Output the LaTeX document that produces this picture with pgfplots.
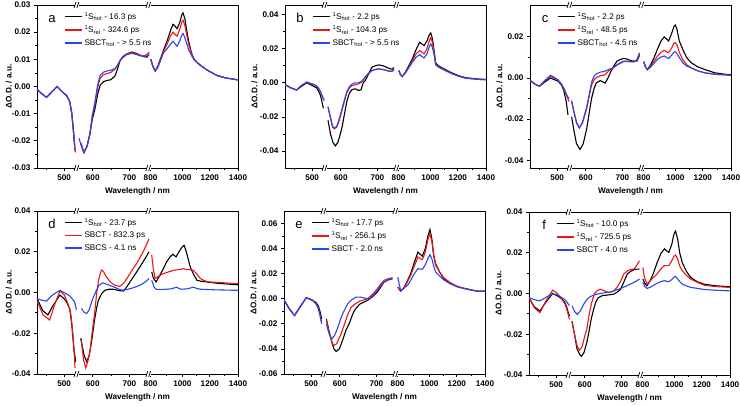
\documentclass[border=0pt]{standalone}
\usepackage{fontspec}
\setmainfont{Liberation Sans}
\usepackage{pgfplots}
\pgfplotsset{compat=1.18}
\definecolor{cblack}{RGB}{0,0,0}
\definecolor{cred}{RGB}{240,20,20}
\definecolor{cblue}{RGB}{40,70,240}

\newcommand{\brkmark}[2]{%
 \fill[white] (rel axis cs:#1,#2) ++(-2.2pt,-1.6pt) rectangle ++(4.4pt,3.2pt);
 \draw[line width=0.7pt] (rel axis cs:#1,#2) ++(-3.2pt,-3pt) -- ++(2pt,6pt);
 \draw[line width=0.7pt] (rel axis cs:#1,#2) ++(-0.4pt,-3pt) -- ++(2pt,6pt);
}
\newcommand{\brks}{\brkmark{0.2}{0}\brkmark{0.2}{1}\brkmark{0.5575}{0}\brkmark{0.5575}{1}}

\pgfplotsset{
 panel/.style={
   width=201pt, height=163pt, scale only axis, anchor=south west,
   xmin=0, xmax=200,
   x filter/.expression={x<548 ? 0.35*x-148.05 : (x<790 ? 0.35*x-156 : 0.145*x-3)},
   unbounded coords=jump,
   scaled y ticks=false, scaled x ticks=false,
   xtick={27,55.5,92,113,144.7,172,200},
   xticklabels={500,600,700,800,1000,1200,1400},
   minor xtick={9.5,73.8,129,158.5,186},
   tick align=outside, xtick pos=bottom, ytick pos=left,
   major tick length=3pt, minor tick length=1.7pt,
   minor y tick num=1,
   axis line style={line width=0.9pt},
   every tick/.style={line width=0.8pt,black},
   tick label style={font=\fontsize{8.2}{9}\selectfont\bfseries},
   label style={font=\fontsize{8.2}{9}\selectfont\bfseries},
   xlabel={Wavelength / nm}, ylabel={ΔO.D. / a.u.},
   xlabel style={at={(axis description cs:0.5,-0.141)}, anchor=center},
   clip mode=individual,
   legend style={draw=none, fill=none, at={(rel axis cs:0.13,0.975)}, anchor=north west,
     font=\fontsize{8.2}{9}\selectfont, legend cell align=left, row sep=1.3pt, inner sep=1pt},
   legend image code/.code={\draw[#1, line width=1.2pt] (0pt,0pt) -- (17pt,0pt);},
 },
}
\newcommand{\plab}[1]{\node[anchor=base, font=\fontsize{13}{13}\selectfont] at (rel axis cs:0.075,0.893) {#1};}

\begin{document}
\begin{tikzpicture}
\useasboundingbox (0,0) rectangle (740pt,405pt);

% ---------------- a ----------------
\begin{axis}[panel, at={(37pt,237pt)}, ymin=-0.03, ymax=0.03,
  ytick={-0.03,-0.02,-0.01,0,0.01,0.02,0.03},
  yticklabels={-0.03,-0.02,-0.01,0.00,0.01,0.02,0.03},
  ylabel style={at={(axis description cs:-0.14,0.5)}, anchor=center}]
\addplot[color=cblack, line width=1.1pt] coordinates {(423,-0.0010) (435,-0.0025) (450,-0.0040) (465,-0.0020) (480,0.0000) (495,-0.0020) (507,-0.0033) (516,-0.0055) (522,-0.010) (527,-0.017) (531,-0.0236)
 (550,nan) (571,-0.021) (579,-0.0243) (588,-0.022) (596,-0.0175) (603,-0.012) (610,-0.0085) (618,-0.003) (625,0.0004) (635,0.0018) (644,0.0022) (656,0.0025) (668,0.0040) (676,0.0070) (682,0.0096) (690,0.011) (701,0.012) (715,0.0127) (728,0.0122) (739,0.0115) (750,0.011) (758,0.0108) (763,0.0115)
 (790,nan) (802,0.0100) (815,0.0075) (832,0.0057) (850,0.0075) (870,0.0105) (890,0.0135) (915,0.0170) (936,0.0205) (954,0.0229) (968,0.0222) (982,0.0213) (1000,0.0235) (1015,0.0265) (1023,0.0271) (1035,0.025) (1050,0.020) (1062,0.0165) (1080,0.0125) (1097,0.0102) (1120,0.0088) (1143,0.0078) (1189,0.0060) (1258,0.0040) (1320,0.0031) (1372,0.0027) (1400,0.0024)};
\addplot[color=cred, line width=1.1pt] coordinates {(423,-0.0010) (435,-0.0025) (450,-0.0040) (465,-0.0020) (480,0.0000) (495,-0.0020) (507,-0.0033) (516,-0.0055) (522,-0.010) (527,-0.017) (531,-0.0236) (533,-0.0243)
 (550,nan) (571,-0.021) (579,-0.0243) (588,-0.022) (596,-0.0175) (603,-0.011) (610,-0.007) (618,-0.0005) (625,0.0030) (635,0.0044) (644,0.0047) (656,0.0052) (668,0.0065) (676,0.0082) (682,0.0096) (690,0.0110) (701,0.0120) (715,0.0125) (728,0.012) (739,0.0115) (750,0.0113) (758,0.0118) (765,0.0127)
 (790,nan) (802,0.0100) (815,0.0075) (832,0.0057) (850,0.0073) (870,0.0102) (890,0.0130) (915,0.0158) (936,0.0185) (954,0.0200) (968,0.0192) (982,0.0185) (1000,0.0210) (1015,0.0238) (1023,0.0244) (1035,0.0225) (1050,0.0185) (1062,0.0155) (1080,0.0122) (1097,0.0102) (1120,0.0088) (1143,0.0078) (1189,0.0060) (1258,0.0040) (1320,0.0031) (1372,0.0027) (1400,0.0024)};
\addplot[color=cblue, line width=1.1pt] coordinates {(423,-0.0010) (435,-0.0025) (450,-0.0040) (465,-0.0020) (480,0.0000) (495,-0.0020) (507,-0.0033) (516,-0.0055) (522,-0.010) (527,-0.017) (531,-0.0230)
 (550,nan) (565,-0.019) (572,-0.022) (579,-0.0243) (588,-0.022) (596,-0.0175) (603,-0.0105) (610,-0.0060) (618,0.0005) (625,0.0040) (635,0.0053) (644,0.0057) (656,0.0060) (668,0.0066) (676,0.0080) (682,0.0094) (690,0.0107) (701,0.0117) (715,0.0122) (728,0.0118) (739,0.0113) (750,0.0110) (758,0.0112) (765,0.0120)
 (790,nan) (802,0.0100) (815,0.0075) (832,0.0057) (850,0.0070) (870,0.0098) (890,0.0125) (915,0.0140) (936,0.0155) (954,0.0167) (968,0.0157) (982,0.0148) (1000,0.0168) (1015,0.0190) (1023,0.0195) (1035,0.0180) (1050,0.0155) (1062,0.0135) (1080,0.0115) (1097,0.0100) (1120,0.0087) (1143,0.0077) (1189,0.0060) (1258,0.0040) (1320,0.0031) (1372,0.0027) (1400,0.0024)};
\legend{\textsuperscript{1}S\textsubscript{hot} - 16.3 ps, \textsuperscript{1}S\textsubscript{rel} - 324.6 ps, SBCT\textsubscript{hot} - > 5.5 ns}
\plab{a}
\brks
\end{axis}

% ---------------- b ----------------
\begin{axis}[panel, at={(285pt,237pt)}, ymin=-0.05, ymax=0.0457,
  ytick={-0.04,-0.02,0,0.02,0.04},
  yticklabels={-0.04,-0.02,0.00,0.02,0.04},
  ylabel style={at={(axis description cs:-0.152,0.5)}, anchor=center}]
\addplot[color=cblack, line width=1.1pt] coordinates {(423,-0.001) (440,-0.003) (456,-0.0042) (470,-0.002) (485,0.0000) (495,-0.0010) (504,-0.0020) (513,-0.0030) (519,-0.005) (524,-0.0075) (528,-0.011) (532,-0.015)
 (550,nan) (568,-0.022) (575,-0.030) (582,-0.035) (589,-0.037) (596,-0.035) (603,-0.030) (608,-0.026) (615,-0.018) (622,-0.0104) (629,-0.006) (636,-0.004) (645,-0.0035) (655,-0.0045) (662,-0.004) (668,0.000) (674,0.0014) (683,0.005) (693,0.0092) (702,0.0100) (712,0.0105) (725,0.0100) (741,0.0085) (750,0.0080) (756,0.0090)
 (790,nan) (802,0.0072) (812,0.0050) (825,0.0037) (845,0.0060) (870,0.0100) (894,0.0140) (920,0.0195) (945,0.0238) (960,0.0228) (975,0.0219) (995,0.0245) (1010,0.0280) (1021,0.0293) (1032,0.0260) (1045,0.0180) (1055,0.0115) (1075,0.0100) (1101,0.0087) (1135,0.0072) (1170,0.0057) (1215,0.0041) (1262,0.0030) (1354,0.0022) (1405,0.0020)};
\addplot[color=cred, line width=1.1pt] coordinates {(423,-0.001) (440,-0.003) (456,-0.0042) (470,-0.0015) (485,0.0003) (495,-0.0005) (504,-0.0010) (513,-0.0020) (519,-0.0035) (524,-0.0055) (530,-0.0085) (534,-0.0105)
 (550,nan) (568,-0.0143) (575,-0.021) (581,-0.026) (586,-0.027) (593,-0.026) (600,-0.022) (608,-0.016) (615,-0.0105) (622,-0.0055) (629,-0.003) (636,-0.0016) (645,-0.0012) (655,-0.0006) (664,0.0005) (674,0.0033) (683,0.0055) (693,0.0072) (702,0.0078) (712,0.0082) (725,0.0078) (741,0.0068) (750,0.0068) (756,0.0078)
 (790,nan) (802,0.0072) (812,0.0050) (825,0.0037) (845,0.0058) (870,0.0093) (894,0.0128) (920,0.0170) (945,0.0190) (960,0.0180) (975,0.0170) (995,0.0200) (1010,0.0245) (1021,0.0264) (1032,0.0240) (1045,0.0170) (1055,0.0110) (1075,0.0095) (1101,0.0082) (1135,0.0068) (1170,0.0053) (1215,0.0038) (1262,0.0027) (1354,0.0020) (1405,0.0018)};
\addplot[color=cblue, line width=1.1pt] coordinates {(423,-0.001) (440,-0.003) (456,-0.0042) (470,-0.0015) (485,0.0005) (495,-0.0003) (504,-0.0008) (513,-0.0018) (519,-0.0033) (524,-0.0052) (530,-0.0082) (534,-0.0100)
 (550,nan) (568,-0.0140) (575,-0.020) (581,-0.0255) (586,-0.0265) (593,-0.0255) (600,-0.021) (608,-0.015) (615,-0.0098) (622,-0.0048) (629,-0.0022) (636,-0.0008) (645,0.0000) (655,0.0000) (664,0.0010) (674,0.0035) (683,0.0056) (693,0.0072) (702,0.0078) (712,0.0082) (725,0.0078) (741,0.0069) (750,0.0069) (756,0.0079)
 (790,nan) (802,0.0072) (812,0.0050) (825,0.0037) (845,0.0055) (870,0.0088) (894,0.0120) (920,0.0150) (945,0.0166) (960,0.0155) (975,0.0146) (995,0.0170) (1010,0.0210) (1021,0.0229) (1032,0.0210) (1045,0.0160) (1055,0.0105) (1075,0.0092) (1101,0.0080) (1135,0.0066) (1170,0.0052) (1215,0.0038) (1262,0.0027) (1354,0.0020) (1405,0.0018)};
\legend{\textsuperscript{1}S\textsubscript{hot} - 2.2 ps, \textsuperscript{1}S\textsubscript{rel} - 104.3 ps, SBCT\textsubscript{hot} - > 5.5 ns}
\plab{b}
\brks
\end{axis}

% ---------------- c ----------------
\begin{axis}[panel, at={(530pt,237pt)}, ymin=-0.0438, ymax=0.0355,
  ytick={-0.04,-0.02,0,0.02},
  yticklabels={-0.04,-0.02,0.00,0.02},
  ylabel style={at={(axis description cs:-0.152,0.5)}, anchor=center}]
\addplot[color=cblack, line width=1.1pt] coordinates {(423,-0.0011) (437,-0.003) (450,-0.0040) (465,-0.0020) (481,0.0000) (492,-0.0008) (503,-0.0016) (512,-0.0033) (519,-0.006) (526,-0.0115) (531,-0.018)
 (550,nan) (564,-0.0189) (571,-0.026) (578,-0.032) (588,-0.0348) (597,-0.032) (607,-0.0246) (614,-0.017) (621,-0.0098) (628,-0.005) (634,-0.0025) (645,-0.0013) (652,-0.0018) (659,-0.0025) (666,-0.0005) (674,0.0025) (683,0.0055) (693,0.0082) (703,0.0090) (712,0.0095) (722,0.0092) (731,0.0085) (741,0.0082) (750,0.0082) (757,0.0110)
 (790,nan) (802,0.0079) (812,0.0055) (826,0.0041) (845,0.0060) (870,0.0095) (895,0.0140) (920,0.0180) (942,0.0200) (957,0.0190) (972,0.0180) (992,0.0215) (1008,0.0250) (1018,0.0257) (1030,0.0235) (1045,0.0180) (1069,0.0139) (1095,0.0100) (1127,0.0074) (1170,0.0055) (1220,0.0041) (1290,0.0025) (1359,0.0018) (1400,0.0016)};
\addplot[color=cred, line width=1.1pt] coordinates {(423,-0.0011) (437,-0.003) (450,-0.0040) (465,-0.0015) (481,0.0008) (492,0.0000) (503,-0.0012) (512,-0.0030) (520,-0.0055) (528,-0.009) (534,-0.0115)
 (550,nan) (564,-0.0115) (571,-0.017) (578,-0.022) (586,-0.0243) (595,-0.022) (607,-0.0148) (614,-0.009) (621,-0.0033) (628,-0.0008) (635,0.0003) (645,0.0010) (659,0.0016) (670,0.0035) (683,0.005) (693,0.0065) (703,0.0075) (712,0.0082) (722,0.0082) (731,0.0080) (741,0.0079) (750,0.0088) (757,0.0123)
 (790,nan) (802,0.0079) (812,0.0055) (826,0.0041) (845,0.0055) (870,0.0080) (895,0.0105) (920,0.0125) (942,0.0134) (957,0.0128) (972,0.0123) (992,0.0145) (1008,0.0168) (1018,0.0172) (1030,0.0160) (1045,0.0125) (1069,0.0090) (1095,0.0065) (1127,0.0049) (1170,0.0035) (1220,0.0025) (1290,0.0018) (1359,0.0015) (1400,0.0013)};
\addplot[color=cblue, line width=1.1pt] coordinates {(423,-0.0011) (437,-0.003) (450,-0.0040) (465,-0.0012) (481,0.0013) (492,0.0003) (503,-0.0010) (512,-0.0028) (520,-0.0052) (528,-0.0085) (534,-0.0100)
 (550,nan) (564,-0.0110) (571,-0.0165) (578,-0.0215) (586,-0.0243) (595,-0.0215) (607,-0.0140) (614,-0.008) (621,-0.0020) (628,0.0010) (635,0.0020) (645,0.0028) (659,0.0033) (670,0.0042) (683,0.0050) (693,0.0062) (703,0.0072) (712,0.0080) (722,0.0080) (731,0.0079) (741,0.0078) (750,0.0088) (757,0.0118)
 (790,nan) (802,0.0079) (812,0.0055) (826,0.0041) (845,0.0050) (870,0.0070) (895,0.0090) (920,0.0102) (942,0.0107) (957,0.0100) (972,0.0095) (992,0.0110) (1008,0.0125) (1018,0.0128) (1030,0.0118) (1045,0.0100) (1069,0.0074) (1095,0.0058) (1127,0.0049) (1170,0.0035) (1220,0.0025) (1290,0.0018) (1359,0.0015) (1400,0.0013)};
\legend{\textsuperscript{1}S\textsubscript{hot} - 2.2 ps, \textsuperscript{1}S\textsubscript{rel} - 48.5 ps, SBCT\textsubscript{hot} - 4.5 ns}
\plab{c}
\brks
\end{axis}

% ---------------- d ----------------
\begin{axis}[panel, at={(37pt,31pt)}, ymin=-0.04, ymax=0.04,
  ytick={-0.04,-0.02,0,0.02,0.04},
  yticklabels={-0.04,-0.02,0.00,0.02,0.04},
  ylabel style={at={(axis description cs:-0.14,0.5)}, anchor=center}]
\addplot[color=cblack, line width=1.1pt] coordinates {(423,-0.0030) (440,-0.009) (454,-0.0110) (470,-0.0060) (488,-0.0013) (500,-0.0030) (507,-0.0046) (516,-0.0080) (522,-0.016) (527,-0.026) (533,-0.0340)
 (550,nan) (570,-0.0225) (580,-0.031) (587,-0.0340) (594,-0.031) (601,-0.0240) (608,-0.015) (615,-0.0078) (620,-0.0040) (625,-0.0020) (632,0.0000) (639,0.0011) (650,0.0016) (663,0.0016) (680,0.0009) (691,0.0007) (700,0.0025) (710,0.0052) (719,0.0075) (729,0.0101) (738,0.0125) (747,0.0150) (756,0.0175) (764,0.0199)
 (790,nan) (808,0.0101) (820,0.0070) (838,0.0052) (860,0.0080) (888,0.0117) (910,0.0150) (934,0.0175) (953,0.0188) (965,0.0180) (975,0.0175) (995,0.0200) (1015,0.0222) (1030,0.0232) (1045,0.020) (1060,0.016) (1072,0.0126) (1094,0.0090) (1118,0.0060) (1150,0.0055) (1186,0.0052) (1250,0.0046) (1320,0.0042) (1370,0.0039) (1400,0.0038)};
\addplot[color=cred, line width=1.1pt] coordinates {(423,-0.0040) (440,-0.011) (459,-0.0135) (475,-0.0050) (488,0.0007) (500,-0.0010) (511,-0.0055) (518,-0.0090) (524,-0.018) (528,-0.028) (531,-0.0370)
 (550,nan) (572,-0.024) (578,-0.033) (584,-0.0370) (590,-0.034) (596,-0.0290) (603,-0.019) (610,-0.0095) (615,-0.001) (620,0.0052) (625,0.0090) (629,0.0110) (634,0.0105) (643,0.0077) (655,0.0050) (667,0.0036) (681,0.0030) (691,0.0044) (700,0.0065) (710,0.0093) (719,0.0118) (729,0.0142) (738,0.0170) (747,0.0199) (756,0.0230) (764,0.0264)
 (790,nan) (808,0.0183) (818,0.0120) (831,0.0069) (850,0.0078) (888,0.0093) (920,0.0100) (957,0.0109) (990,0.0112) (1026,0.0117) (1050,0.0112) (1070,0.0112) (1094,0.0109) (1118,0.0090) (1141,0.0069) (1170,0.0058) (1198,0.0052) (1250,0.0050) (1320,0.0047) (1370,0.0044) (1400,0.0043)};
\addplot[color=cblue, line width=1.1pt] coordinates {(423,-0.0030) (440,-0.0040) (450,-0.0042) (465,-0.0015) (488,0.0011) (500,0.0000) (516,-0.0016) (525,-0.0035) (530,-0.0046) (535,-0.0085)
 (550,nan) (572,-0.0078) (580,-0.0098) (587,-0.0103) (594,-0.0085) (601,-0.0046) (608,-0.0015) (615,0.0011) (622,0.0035) (629,0.0044) (634,0.0047) (645,0.0040) (663,0.0028) (680,0.0015) (691,0.0011) (700,0.0014) (719,0.0023) (735,0.0033) (747,0.0044) (756,0.0055) (764,0.0069)
 (790,nan) (808,0.0060) (825,0.0025) (842,0.0015) (870,0.0015) (911,0.0016) (940,0.0018) (980,0.0026) (1000,0.0018) (1014,0.0016) (1050,0.0018) (1094,0.0026) (1118,0.0020) (1141,0.0016) (1250,0.0013) (1370,0.0011) (1400,0.0011)};
\legend{\textsuperscript{1}S\textsubscript{hot} - 23.7 ps, SBCT - 832.3 ps, SBCS - 4.1 ns}
\plab{d}
\brks
\end{axis}

% ---------------- e ----------------
\begin{axis}[panel, at={(284pt,31pt)}, ymin=-0.06, ymax=0.07,
  ytick={-0.06,-0.04,-0.02,0,0.02,0.04,0.06},
  yticklabels={-0.06,-0.04,-0.02,0.00,0.02,0.04,0.06},
  ylabel style={at={(axis description cs:-0.152,0.5)}, anchor=center}]
\addplot[color=cblack, line width=1.1pt] coordinates {(423,-0.0008) (438,-0.008) (453,-0.0133) (470,-0.006) (486,0.0008) (496,0.0000) (505,-0.0013) (514,-0.0030) (521,-0.0060) (526,-0.0107) (530,-0.0160)
 (550,nan) (566,-0.0160) (574,-0.026) (582,-0.035) (588,-0.040) (594,-0.0420) (603,-0.040) (612,-0.0333) (622,-0.025) (631,-0.0200) (640,-0.013) (646,-0.0093) (660,-0.0045) (672,-0.0028) (683,-0.0013) (697,0.0015) (711,0.0053) (720,0.0090) (730,0.0133) (742,0.0150) (754,0.0160)
 (790,nan) (802,0.0093) (812,0.0075) (822,0.0061) (845,0.0090) (870,0.0150) (890,0.0200) (915,0.0290) (940,0.0373) (955,0.0355) (970,0.0340) (990,0.0400) (1008,0.0500) (1022,0.0552) (1035,0.0480) (1048,0.0350) (1061,0.0280) (1090,0.0210) (1118,0.0160) (1160,0.0125) (1209,0.0099) (1250,0.0085) (1300,0.0072) (1346,0.0061) (1400,0.0061)};
\addplot[color=cred, line width=1.1pt] coordinates {(423,-0.0008) (438,-0.008) (453,-0.0133) (470,-0.006) (486,0.0008) (496,-0.0003) (505,-0.0015) (514,-0.0040) (520,-0.0070) (525,-0.012) (530,-0.0187)
 (550,nan) (566,-0.0165) (574,-0.027) (582,-0.0345) (587,-0.0373) (595,-0.036) (608,-0.0280) (618,-0.020) (626,-0.0133) (636,-0.0070) (646,-0.0045) (660,-0.0020) (672,-0.0010) (683,0.0000) (697,0.0035) (711,0.0080) (720,0.0115) (730,0.0147) (742,0.0160) (754,0.0168)
 (790,nan) (802,0.0093) (812,0.0075) (822,0.0061) (845,0.0088) (870,0.0140) (890,0.0187) (915,0.026) (940,0.0333) (955,0.0320) (970,0.0312) (990,0.0370) (1008,0.0470) (1022,0.0520) (1035,0.0460) (1048,0.0340) (1061,0.0267) (1090,0.0210) (1118,0.0168) (1160,0.013) (1209,0.0099) (1250,0.0085) (1300,0.0072) (1346,0.0061) (1400,0.0061)};
\addplot[color=cblue, line width=1.1pt] coordinates {(423,-0.0008) (438,-0.008) (453,-0.0133) (470,-0.006) (486,0.0008) (496,-0.0003) (505,-0.0015) (514,-0.0040) (520,-0.0075) (525,-0.013) (530,-0.0200)
 (550,nan) (566,-0.0200) (574,-0.028) (582,-0.0320) (590,-0.029) (599,-0.0227) (608,-0.015) (617,-0.0093) (627,-0.004) (636,-0.0013) (650,0.0013) (664,0.0013) (676,0.0005) (688,0.0000) (700,0.003) (711,0.0067) (720,0.0100) (730,0.0133) (742,0.0152) (754,0.0165)
 (790,nan) (802,0.0173) (812,0.011) (822,0.0065) (845,0.0085) (870,0.011) (890,0.0147) (915,0.020) (940,0.0240) (955,0.0238) (970,0.0235) (990,0.0270) (1008,0.0320) (1022,0.0352) (1035,0.0320) (1048,0.0260) (1061,0.0213) (1090,0.0180) (1118,0.0150) (1160,0.012) (1209,0.0095) (1250,0.0083) (1300,0.0070) (1346,0.0061) (1400,0.0060)};
\legend{\textsuperscript{1}S\textsubscript{hot} - 17.7 ps, \textsuperscript{1}S\textsubscript{rel} - 256.1 ps, SBCT - 2.0 ns}
\plab{e}
\brks
\end{axis}

% ---------------- f ----------------
\begin{axis}[panel, at={(529pt,30pt)}, ymin=-0.04, ymax=0.04,
  ytick={-0.04,-0.02,0,0.02,0.04},
  yticklabels={-0.04,-0.02,0.00,0.02,0.04},
  ylabel style={at={(axis description cs:-0.152,0.5)}, anchor=center}]
\addplot[color=cblack, line width=1.1pt] coordinates {(423,-0.0020) (438,-0.0065) (454,-0.0086) (470,-0.0045) (490,0.0000) (502,-0.0010) (511,-0.0020) (518,-0.0030) (525,-0.0044) (530,-0.0065) (534,-0.0090) (538,-0.0110)
 (550,nan) (568,-0.0135) (575,-0.020) (582,-0.027) (590,-0.030) (595,-0.0308) (602,-0.029) (610,-0.0240) (615,-0.0200) (622,-0.0130) (629,-0.0080) (636,-0.0040) (643,-0.0020) (655,-0.0010) (667,-0.0008) (687,-0.0003) (698,0.0008) (706,0.0021) (715,0.0055) (725,0.0095) (734,0.0108) (744,0.0117) (752,0.0120) (760,0.0120)
 (790,nan) (802,0.0071) (815,0.0050) (830,0.0038) (850,0.0060) (875,0.0100) (899,0.0150) (925,0.0195) (950,0.0219) (965,0.0210) (980,0.0202) (1000,0.0240) (1015,0.0290) (1026,0.0306) (1040,0.0270) (1055,0.0200) (1072,0.0153) (1100,0.0110) (1130,0.0079) (1175,0.0058) (1222,0.0046) (1300,0.0038) (1400,0.0033)};
\addplot[color=cred, line width=1.1pt] coordinates {(423,-0.0020) (438,-0.0070) (454,-0.0094) (470,-0.0040) (490,0.0016) (502,0.0003) (516,-0.0028) (525,-0.0050) (530,-0.0075) (534,-0.0100) (538,-0.0127)
 (550,nan) (568,-0.0140) (575,-0.020) (583,-0.026) (590,-0.0278) (597,-0.026) (604,-0.021) (610,-0.0176) (617,-0.010) (624,-0.0044) (632,0.0000) (639,0.0013) (648,0.0021) (660,0.0013) (672,0.0005) (685,0.0010) (696,0.0030) (706,0.0060) (715,0.0095) (725,0.0110) (734,0.0118) (744,0.0120) (752,0.0138) (760,0.0161)
 (790,nan) (802,0.0128) (812,0.0080) (830,0.0046) (850,0.0060) (875,0.0080) (899,0.0095) (925,0.0120) (950,0.0137) (965,0.0137) (980,0.0137) (1000,0.0160) (1015,0.0182) (1026,0.0189) (1040,0.0170) (1055,0.0135) (1072,0.0112) (1100,0.0090) (1130,0.0071) (1175,0.0055) (1222,0.0041) (1300,0.0034) (1400,0.0030)};
\addplot[color=cblue, line width=1.1pt] coordinates {(423,-0.0020) (438,-0.0030) (454,-0.0036) (470,-0.0020) (487,-0.0003) (502,-0.0005) (516,-0.0020) (525,-0.0030) (532,-0.0045) (538,-0.0060)
 (550,nan) (568,-0.0060) (576,-0.0090) (583,-0.0102) (592,-0.0085) (601,-0.0053) (610,-0.0030) (620,-0.0015) (634,-0.0005) (648,0.0000) (663,0.0004) (677,0.0008) (692,0.0015) (706,0.0025) (720,0.0035) (734,0.0046) (748,0.0058) (760,0.0071)
 (790,nan) (802,0.0054) (815,0.0035) (830,0.0025) (850,0.0030) (875,0.0040) (899,0.0050) (925,0.0058) (950,0.0063) (965,0.0060) (980,0.0058) (1000,0.0068) (1015,0.0080) (1026,0.0084) (1040,0.0072) (1055,0.0058) (1072,0.0046) (1100,0.0038) (1130,0.0030) (1222,0.0020) (1300,0.0016) (1400,0.0013)};
\legend{\textsuperscript{1}S\textsubscript{hot} - 10.0 ps, \textsuperscript{1}S\textsubscript{rel} - 725.5 ps, SBCT - 4.0 ns}
\plab{f}
\brks
\end{axis}
\end{tikzpicture}
\end{document}
